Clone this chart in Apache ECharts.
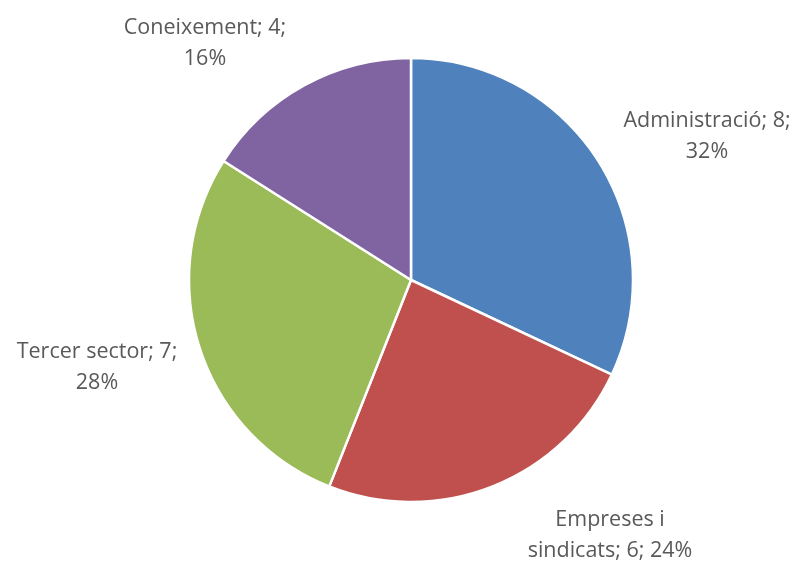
<!DOCTYPE html>
<html><head><meta charset="utf-8">
<script src="https://cdn.jsdelivr.net/npm/echarts@6/dist/echarts.min.js"></script>
<style>html,body{margin:0;padding:0;background:#fff}#c{width:797px;height:563px}</style>
</head><body><div id="c"></div>
<script>
const categories = ['Administració', 'Empreses i sindicats', 'Tercer sector', 'Coneixement'];
const values = [8, 6, 7, 4];
const colors = ['#4F81BD', '#C0504D', '#9BBB59', '#8064A2'];
const labelTexts = ['Administració; 8;\n32%', 'Empreses i\nsindicats; 6; 24%', 'Tercer sector; 7;\n28%', 'Coneixement; 4;\n16%'];
const labelPos = [[707, 136], [610, 535], [97, 367], [205, 43]];

const chart = echarts.init(document.getElementById('c'));
chart.setOption({
  animation: false,
  series: [{
    type: 'pie',
    center: [411, 280],
    radius: 222,
    startAngle: 90,
    clockwise: true,
    data: categories.map((n, i) => ({ name: n, value: values[i], itemStyle: { color: colors[i] } })),
    itemStyle: { borderColor: '#fff', borderWidth: 2.5 },
    label: {
      show: true,
      formatter: p => labelTexts[p.dataIndex],
      color: '#595959',
      fontFamily: 'Open Sans',
      fontSize: 21.5,
      lineHeight: 31,
      align: 'center',
      overflow: 'none'
    },
    labelLine: { show: false },
    labelLayout: p => ({ x: labelPos[p.dataIndex][0], y: labelPos[p.dataIndex][1], align: 'center', verticalAlign: 'middle' })
  }]
});
</script></body></html>
